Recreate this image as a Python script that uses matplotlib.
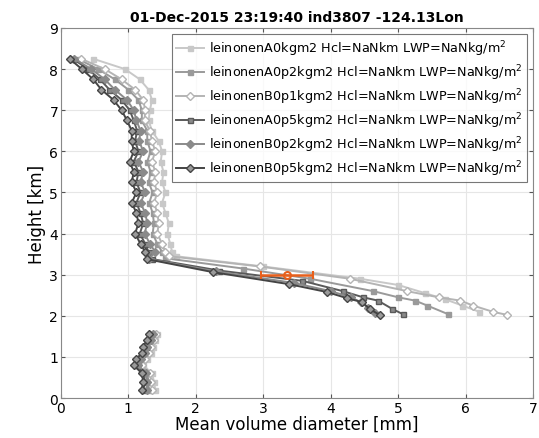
import numpy as np
import matplotlib
matplotlib.use("Agg")
import matplotlib.pyplot as plt

nan = np.nan
labels = ["leinonenA0kgm2", "leinonenA0p2kgm2", "leinonenB0p1kgm2",
          "leinonenA0p5kgm2", "leinonenB0p2kgm2", "leinonenB0p5kgm2"]

h_upper = [8.25, 8.0, 7.75, 7.5, 7.25, 7.0, 6.75, 6.5, 6.25, 6.0, 5.75, 5.5,
           5.25, 5.0, 4.75, 4.5, 4.25, 4.0, 3.75, 3.55]
h_low = [1.55, 1.4, 1.25, 1.1, 0.95, 0.8, 0.6, 0.4, 0.2]

x_upper = [
    [0.48, 0.95, 1.17, 1.30, 1.35, 1.32, 1.30, 1.35, 1.45, 1.50, 1.48, 1.52, 1.50, 1.55, 1.50, 1.55, 1.60, 1.58, 1.62, 1.65],
    [0.25, 0.55, 0.80, 1.00, 1.15, 1.20, 1.20, 1.28, 1.28, 1.33, 1.28, 1.33, 1.30, 1.36, 1.31, 1.36, 1.38, 1.36, 1.43, 1.50],
    [0.30, 0.65, 0.90, 1.10, 1.22, 1.25, 1.24, 1.32, 1.35, 1.40, 1.35, 1.40, 1.38, 1.43, 1.38, 1.43, 1.45, 1.43, 1.50, 1.55],
    [0.18, 0.40, 0.58, 0.72, 0.90, 1.02, 1.08, 1.13, 1.10, 1.15, 1.08, 1.15, 1.12, 1.18, 1.12, 1.18, 1.22, 1.17, 1.25, 1.30],
    [0.20, 0.45, 0.65, 0.80, 0.98, 1.08, 1.12, 1.18, 1.16, 1.22, 1.15, 1.22, 1.18, 1.25, 1.18, 1.25, 1.28, 1.24, 1.32, 1.40],
    [0.13, 0.31, 0.48, 0.60, 0.78, 0.90, 0.98, 1.05, 1.05, 1.08, 1.02, 1.08, 1.05, 1.12, 1.05, 1.12, 1.15, 1.10, 1.18, 1.25],
]

h_rain = [
    [3.45, 3.2, 2.9, 2.75, 2.55, 2.4, 2.25, 2.1],
    [3.4, 3.15, 2.9, 2.6, 2.45, 2.37, 2.25, 2.04],
    [3.45, 3.2, 2.9, 2.6, 2.45, 2.37, 2.25, 2.1, 2.02],
    [3.38, 3.1, 2.85, 2.6, 2.45, 2.37, 2.17, 2.04],
    [3.38, 3.08, 2.8, 2.6, 2.45, 2.33, 2.2, 2.08],
    [3.38, 3.06, 2.77, 2.58, 2.43, 2.33, 2.16, 2.02],
]
x_rain = [
    [1.70, 3.00, 4.44, 5.00, 5.40, 5.70, 5.95, 6.20],
    [1.55, 2.70, 3.70, 4.63, 5.00, 5.25, 5.43, 5.74],
    [1.60, 2.95, 4.29, 5.13, 5.60, 5.92, 6.11, 6.40, 6.62],
    [1.35, 2.35, 3.58, 4.18, 4.48, 4.70, 4.91, 5.07],
    [1.30, 2.30, 3.45, 4.00, 4.30, 4.45, 4.55, 4.65],
    [1.27, 2.26, 3.38, 3.94, 4.24, 4.47, 4.58, 4.73],
]
x_low = [
    [1.43, 1.40, 1.36, 1.33, 1.28, 1.22, 1.35, 1.38, 1.40],
    [1.38, 1.35, 1.30, 1.28, 1.22, 1.18, 1.28, 1.30, 1.30],
    [1.41, 1.38, 1.33, 1.30, 1.25, 1.20, 1.32, 1.34, 1.35],
    [1.33, 1.30, 1.26, 1.22, 1.15, 1.12, 1.22, 1.25, 1.22],
    [1.36, 1.33, 1.28, 1.25, 1.18, 1.15, 1.26, 1.28, 1.28],
    [1.30, 1.27, 1.22, 1.20, 1.12, 1.08, 1.20, 1.22, 1.20],
]

obs_x = [3.35]
obs_h = [3.0]
obs_xerr = [0.39]

colors = ["#c8c8c8", "#9a9a9a", "#b4b4b4", "#5a5a5a", "#8a8a8a", "#444444"]
markers = ["s", "s", "D", "s", "D", "D"]
faces = ["#c8c8c8", "#9a9a9a", "white", "#8a8a8a", "#8a8a8a", "#9a9a9a"]
msizes = [3.6, 3.6, 4, 3.6, 4, 4]

fig = plt.figure(figsize=(5.39, 4.39), dpi=100)
ax = fig.add_axes([0.113, 0.091, 0.876, 0.843])

for i in range(6):
    xs = list(x_upper[i]) + list(x_rain[i]) + [nan] + list(x_low[i])
    hs = list(h_upper) + list(h_rain[i]) + [nan] + list(h_low)
    ax.plot(xs, hs, color=colors[i], marker=markers[i], ms=msizes[i],
            mfc=faces[i], mec=colors[i], mew=1.0, lw=1.4,
            label=labels[i] + " Hcl=NaNkm LWP=NaNkg/m$^2$")

ax.errorbar(obs_x, obs_h, xerr=obs_xerr, color="#e8601c", marker="o",
            mfc="none", ms=5, mew=1.5, lw=1.8, capsize=3, capthick=1.5)

ax.set_xlim(0, 7)
ax.set_ylim(0, 9)
ax.set_xticks(range(0, 8))
ax.set_yticks(range(0, 10))
ax.grid(True, color="#e6e6e6", lw=0.8)
ax.tick_params(direction="in", top=True, right=True, labelsize=10, length=3,
               color="#555555", pad=2)
for s in ax.spines.values():
    s.set_color("#888888")
ax.set_xlabel("Mean volume diameter [mm]", fontsize=12, labelpad=0)
ax.set_ylabel("Height [km]", fontsize=12, labelpad=2)
ax.set_title("01-Dec-2015 23:19:40 ind3807 -124.13Lon", fontsize=10,
             fontweight="bold", pad=5)
leg = ax.legend(loc="upper right", fontsize=9.2, handlelength=2.2,
                frameon=True, fancybox=False, edgecolor="#555555",
                borderaxespad=0.5, labelspacing=0.35, handletextpad=0.4,
                borderpad=0.3)
leg.get_frame().set_linewidth(0.8)

fig.savefig("out.png", dpi=100)
